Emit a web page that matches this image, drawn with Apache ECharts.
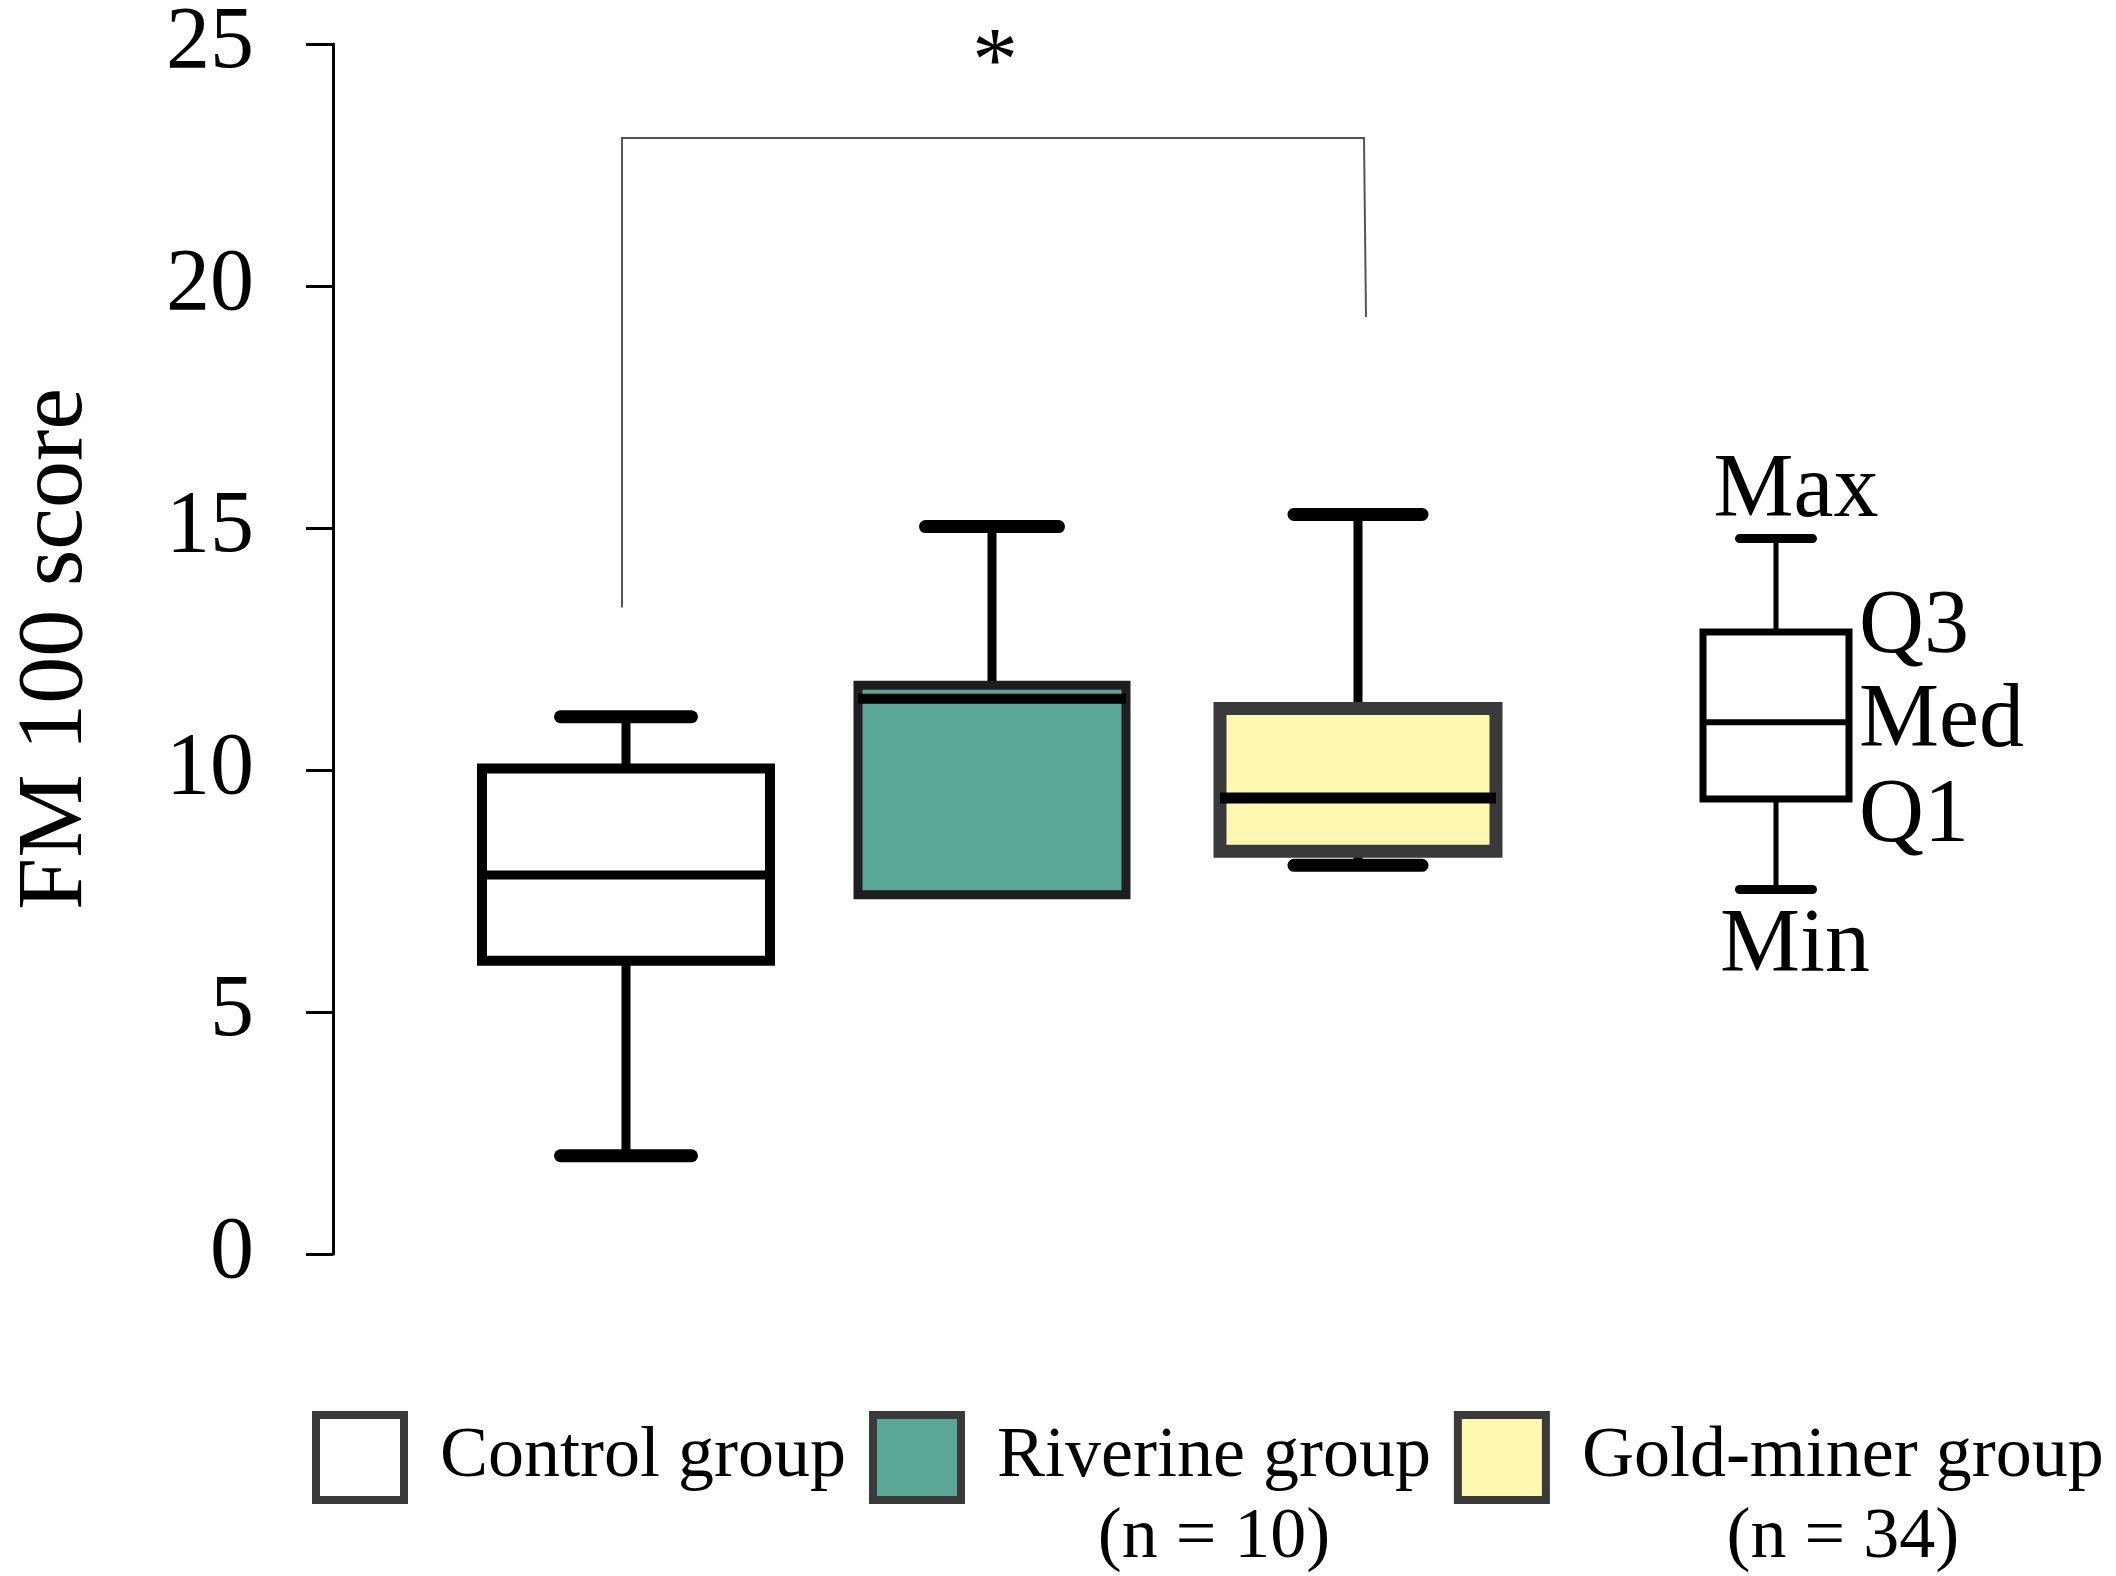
<!DOCTYPE html>
<html>
<head>
<meta charset="utf-8">
<script src="https://cdn.jsdelivr.net/npm/echarts/dist/echarts.min.js"></script>
<style>
html,body{margin:0;padding:0;background:#fff;}
#chart{width:2116px;height:1576px;}
</style>
</head>
<body>
<div id="chart"></div>
<script>
// ---- data ----
const categories = ['Control group', 'Riverine group', 'Gold-miner group'];
const groupSizes = ['', '(n = 10)', '(n = 34)'];
const minValues = [2.03, 7.42, 8.03];
const q1Values = [6.06, 7.42, 8.32];
const medianValues = [7.83, 11.47, 9.42];
const q3Values = [10.03, 11.75, 11.27];
const maxValues = [11.1, 15.03, 15.28];
const yMin = 0, yMax = 25, yInterval = 5;
const keyLabels = ['Min', 'Q1', 'Med', 'Q3', 'Max'];
const keyValues = [7.5, 9.36, 10.94, 12.8, 14.72];
const bracketFrom = 0, bracketTo = 2;
const bracketValues = [13.36, 23.06, 19.36]; // left end, top, right end
const bracketLabel = '*';

// ---- styles ----
const FONT = "'Liberation Serif', 'Times New Roman', serif";
const boxStyles = [
  {boxWidth: 288, fill: '#ffffff', stroke: '#000000', border: 10, median: 9, whisker: 9, cap: 13, capWidth: 144},
  {boxWidth: 268, fill: '#5ba797', stroke: '#1e1e1e', border: 9, median: 10, whisker: 9, cap: 13, capWidth: 146},
  {boxWidth: 276, fill: '#fff8b0', stroke: '#3a3a3a', border: 13, median: 11, whisker: 9, cap: 13, capWidth: 141}
];
const keyStyle = {boxWidth: 146, fill: '#ffffff', stroke: '#000000', border: 7, median: 6, whisker: 5, cap: 9, capWidth: 82};
const legendFill = ['#ffffff', '#5ba797', '#fff8b0'];

function seg(x1, y1, x2, y2, w, color) {
  return {type: 'line', shape: {x1, y1, x2, y2},
    style: {stroke: color || '#000', lineWidth: w, lineCap: 'round'}};
}

function buildBox(api, s) {
  const i = api.value(0);
  const p = api.coord([i, api.value(1)]);
  const cx = p[0], yMn = p[1];
  const yQ1 = api.coord([i, api.value(2)])[1];
  const yMd = api.coord([i, api.value(3)])[1];
  const yQ3 = api.coord([i, api.value(4)])[1];
  const yMx = api.coord([i, api.value(5)])[1];
  const half = s.boxWidth / 2;
  const capHalf = s.capWidth / 2 - s.cap / 2;
  const whiskers = [], caps = [];
  if (yMx < yQ3 - 1) {
    whiskers.push(seg(cx, yQ3, cx, yMx, s.whisker));
    caps.push(seg(cx - capHalf, yMx, cx + capHalf, yMx, s.cap));
  }
  if (yMn > yQ1 + 1) {
    whiskers.push(seg(cx, yQ1, cx, yMn, s.whisker));
    caps.push(seg(cx - capHalf, yMn, cx + capHalf, yMn, s.cap));
  }
  const rect = {type: 'rect', shape: {x: cx - half, y: yQ3, width: s.boxWidth, height: yQ1 - yQ3},
    style: {fill: s.fill, stroke: s.stroke, lineWidth: s.border, lineJoin: 'miter'}};
  const med = {type: 'line', shape: {x1: cx - half, y1: yMd, x2: cx + half, y2: yMd},
    style: {stroke: '#000', lineWidth: s.median, lineCap: 'butt'}};
  return {cx, half, yMn, yQ1, yMd, yQ3, yMx, children: whiskers.concat([rect, med], caps)};
}

const boxSeries = categories.map(function (name, idx) {
  return {
    name: name,
    type: 'custom',
    xAxisIndex: 0, yAxisIndex: 0,
    itemStyle: {color: legendFill[idx], borderColor: '#3a3a3a'},
    data: [[idx, minValues[idx], q1Values[idx], medianValues[idx], q3Values[idx], maxValues[idx]]],
    renderItem: function (params, api) {
      const b = buildBox(api, boxStyles[idx]);
      return {type: 'group', children: b.children};
    },
    z: 3
  };
});

const bracketSeries = {
  type: 'custom',
  name: 'bracket',
  xAxisIndex: 0, yAxisIndex: 0,
  data: [[bracketFrom, bracketTo, bracketValues[0], bracketValues[1], bracketValues[2]]],
  renderItem: function (params, api) {
    const pL = api.coord([api.value(0), api.value(2)]);
    const pT1 = api.coord([api.value(0), api.value(3)]);
    const pT2 = api.coord([api.value(1), api.value(3)]);
    const pR = api.coord([api.value(1), api.value(4)]);
    const mid = (pT1[0] + pT2[0]) / 2;
    return {type: 'group', children: [
      {type: 'polyline', shape: {points: [[pL[0] - 4, pL[1]], [pT1[0] - 4, pT1[1]], [pT2[0] + 6, pT2[1]], [pR[0] + 8, pR[1]]]},
        style: {stroke: '#555', lineWidth: 2, fill: null}},
      {type: 'text', style: {text: bracketLabel, x: mid + 3, y: pT1[1] - 72, fill: '#000',
        fontSize: 92, fontFamily: FONT, align: 'center', verticalAlign: 'middle'}}
    ]};
  },
  z: 2
};

const keySeries = {
  type: 'custom',
  name: 'key',
  xAxisIndex: 1, yAxisIndex: 1,
  data: [[0, keyValues[0], keyValues[1], keyValues[2], keyValues[3], keyValues[4]]],
  renderItem: function (params, api) {
    const b = buildBox(api, keyStyle);
    const tf = {fill: '#000', fontSize: 90, fontFamily: FONT, verticalAlign: 'middle'};
    const txt = function (t, x, y, align) {
      return {type: 'text', style: Object.assign({text: t, x: x, y: y, align: align}, tf)};
    };
    const rx = b.cx + b.half + 10;
    return {type: 'group', children: b.children.concat([
      txt(keyLabels[4], b.cx + 20, b.yMx - 46, 'center'),
      txt(keyLabels[3], rx, b.yQ3 - 4, 'left'),
      txt(keyLabels[2], rx, b.yMd, 'left'),
      txt(keyLabels[1], rx, b.yQ1 + 18, 'left'),
      txt(keyLabels[0], b.cx + 19, b.yMn + 58, 'center')
    ])};
  }
};

const chart = echarts.init(document.getElementById('chart'), null, {renderer: 'canvas'});
chart.setOption({
  backgroundColor: '#ffffff',
  animation: false,
  grid: [
    {left: 443, right: 575, top: 39, bottom: 322},
    {left: 1676, width: 200, top: 39, bottom: 322}
  ],
  xAxis: [
    {type: 'category', gridIndex: 0, data: categories, boundaryGap: true,
      axisLine: {show: false}, axisTick: {show: false}, axisLabel: {show: false}, splitLine: {show: false}},
    {type: 'category', gridIndex: 1, data: ['key'], boundaryGap: true,
      axisLine: {show: false}, axisTick: {show: false}, axisLabel: {show: false}, splitLine: {show: false}}
  ],
  yAxis: [
    {type: 'value', gridIndex: 0, min: yMin, max: yMax, interval: yInterval, offset: 110,
      name: 'FM 100 score', nameLocation: 'middle', nameGap: 230,
      nameTextStyle: {fontSize: 94, fontFamily: FONT, color: '#000'},
      axisLine: {show: true, lineStyle: {color: '#000', width: 3}},
      axisTick: {show: true, length: 27, lineStyle: {color: '#000', width: 3}},
      axisLabel: {fontSize: 88, fontFamily: FONT, color: '#000', margin: 79},
      splitLine: {show: false}},
    {type: 'value', gridIndex: 1, min: yMin, max: yMax, interval: yInterval, show: false,
      splitLine: {show: false}}
  ],
  legend: {
    left: 312, top: 1336, orient: 'horizontal', padding: 0,
    itemWidth: 88, itemHeight: 85, itemGap: 23, icon: 'rect', selectedMode: false,
    textStyle: {fontSize: 72, lineHeight: 81, fontFamily: FONT, color: '#000',
      padding: [0, 0, 0, 31],
      rich: {
        s: {fontSize: 72, lineHeight: 81, fontFamily: FONT},
        a: {fontSize: 72, lineHeight: 81, fontFamily: FONT, color: '#000'},
        b: {fontSize: 72, lineHeight: 81, fontFamily: FONT, color: '#000', align: 'center'}
      }},
    formatter: function (name) {
      const i = categories.indexOf(name);
      return groupSizes[i] ? '{s| }\n{a|' + name + '}\n{b|' + groupSizes[i] + '}' : '{a|' + name + '}';
    },
    data: categories.map(function (c, i) {
      return {name: c, itemStyle: {color: legendFill[i], borderColor: '#3a3a3a', borderWidth: 8}};
    })
  },
  series: boxSeries.concat([bracketSeries, keySeries])
});
</script>
</body>
</html>
